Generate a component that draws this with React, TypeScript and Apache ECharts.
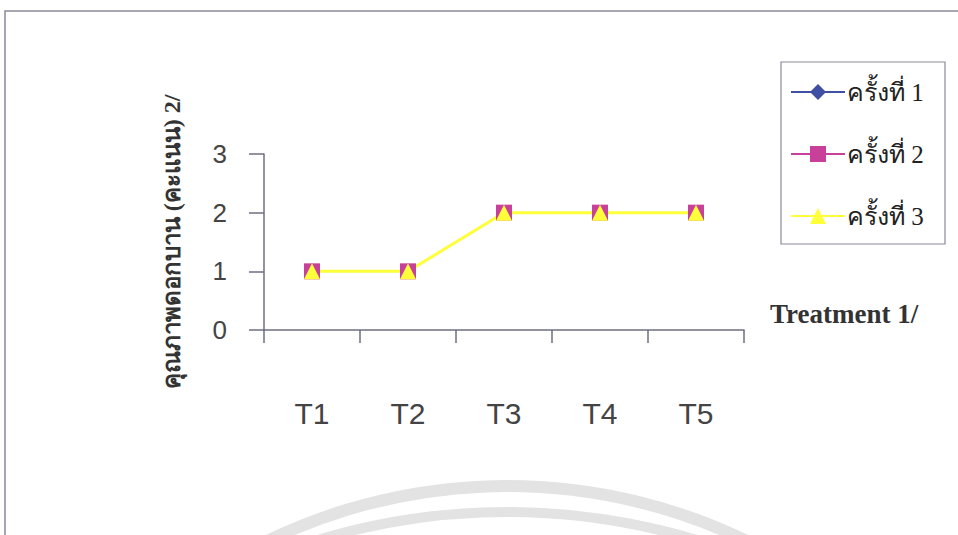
import React, { useEffect, useRef } from "react";
import * as echarts from "echarts";

const categories = ["T1", "T2", "T3", "T4", "T5"];
const seriesNames = ["ครั้งที่ 1", "ครั้งที่ 2", "ครั้งที่ 3"];
const round1 = [1, 1, 2, 2, 2];
const round2 = [1, 1, 2, 2, 2];
const round3 = [1, 1, 2, 2, 2];
const yTicks = [0, 1, 2, 3];
const yAxisTitle = "คุณภาพดอกบาน (คะแนน) 2/";
const xAxisTitle = "Treatment 1/";

const axisColor = "#6e6e80";
const serifFont = "'Liberation Serif', 'Times New Roman', serif";
const sansFont = "'Liberation Sans', Arial, sans-serif";

export default function App() {
  const ref = useRef<HTMLDivElement>(null);
  useEffect(() => {
    if (!ref.current) return;
    const chart = echarts.init(ref.current, undefined, { renderer: "svg" });
    const lineSeries = (name: string, data: number[], color: string, symbol: string, size: number, width: number) => ({
      name,
      type: "line",
      data,
      symbol,
      symbolSize: size,
      showAllSymbol: true,
      lineStyle: { color, width },
      itemStyle: { color, borderWidth: 0 },
      emphasis: { disabled: true },
    });
    chart.setOption({
      animation: false,
      backgroundColor: "#ffffff",
      grid: { left: 264, right: 214, top: 154, bottom: 205, containLabel: false },
      graphic: [
        {
          type: "rect",
          shape: { x: 5, y: 11, width: 1000, height: 600 },
          style: { fill: "none", stroke: "#8a8a9c", lineWidth: 1.5 },
          silent: true,
          z: -10,
        },
        {
          type: "circle",
          shape: { cx: 507, cy: 1036, r: 550 },
          style: { fill: "none", stroke: "#e3e3e3", lineWidth: 12 },
          silent: true,
          z: -10,
        },
        {
          type: "circle",
          shape: { cx: 507, cy: 1166, r: 654 },
          style: { fill: "none", stroke: "#e3e3e3", lineWidth: 10 },
          silent: true,
          z: -10,
        },
        {
          type: "rect",
          shape: { x: 781, y: 62, width: 164, height: 182 },
          style: { fill: "#ffffff", stroke: "#8a8a9c", lineWidth: 1.2 },
          silent: true,
          z: -5,
        },
      ],
      legend: {
        orient: "vertical",
        left: 781,
        top: 62,
        padding: [16, 10, 10, 9],
        itemWidth: 54,
        itemHeight: 20,
        itemGap: 34,
        selectedMode: false,
        lineStyle: { width: 2 },
        textStyle: {
          fontFamily: serifFont,
          fontSize: 25,
          color: "#222222",
          lineHeight: 28,
          padding: [0, 0, 0, -3],
        },
        data: seriesNames,
      },
      xAxis: {
        type: "category",
        data: categories,
        boundaryGap: true,
        name: xAxisTitle,
        nameLocation: "end",
        nameGap: 26,
        nameTextStyle: {
          fontFamily: serifFont,
          fontWeight: "bold",
          fontSize: 27,
          color: "#333333",
          align: "left",
          verticalAlign: "bottom",
          padding: [0, 0, 3, 0],
        },
        axisLine: { show: true, lineStyle: { color: axisColor, width: 1.5 } },
        axisTick: { show: true, length: 13, inside: false, lineStyle: { color: axisColor, width: 1.5 } },
        axisLabel: {
          margin: 68,
          fontFamily: sansFont,
          fontSize: 30,
          color: "#444444",
        },
        splitLine: { show: false },
      },
      yAxis: {
        type: "value",
        min: yTicks[0],
        max: yTicks[yTicks.length - 1],
        interval: 1,
        name: yAxisTitle,
        nameLocation: "middle",
        nameGap: 80,
        nameRotate: 90,
        nameTextStyle: {
          fontFamily: serifFont,
          fontWeight: "bold",
          fontSize: 24,
          color: "#333333",
        },
        axisLine: { show: true, lineStyle: { color: axisColor, width: 1.5 } },
        axisTick: { show: true, length: 15, inside: false, lineStyle: { color: axisColor, width: 1.5 } },
        axisLabel: {
          margin: 37,
          fontFamily: sansFont,
          fontSize: 26,
          color: "#444444",
        },
        splitLine: { show: false },
      },
      series: [
        lineSeries(seriesNames[0], round1, "#3f4fa3", "diamond", 15, 1.5),
        lineSeries(seriesNames[1], round2, "#c8409a", "rect", 16, 1.5),
        lineSeries(seriesNames[2], round3, "#ffff3a", "triangle", 16, 3),
      ],
    });
    return () => chart.dispose();
  }, []);
  return (
    <div
      ref={ref}
      style={{ position: "absolute", left: 0, top: 0, width: 958, height: 535 }}
    />
  );
}
